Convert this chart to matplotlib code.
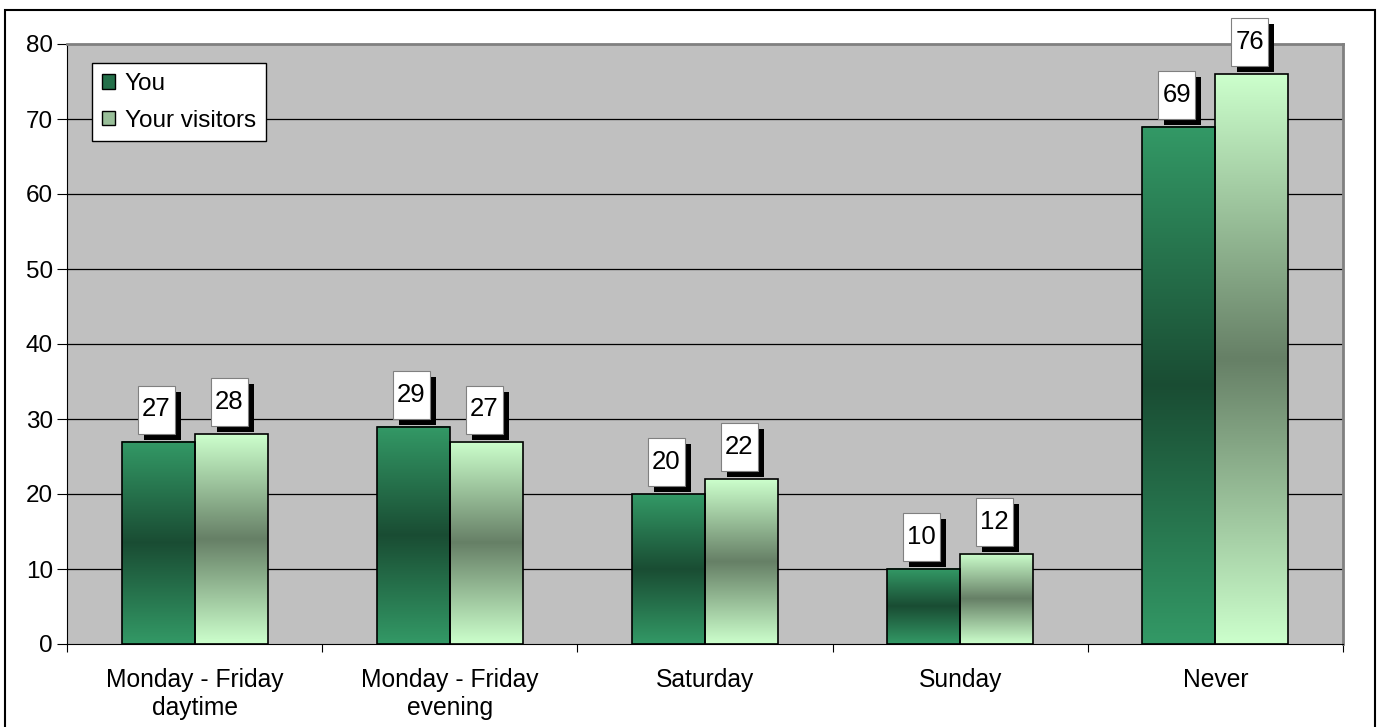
import numpy as np
import matplotlib
matplotlib.use("Agg")
import matplotlib.pyplot as plt
from matplotlib.patches import Rectangle, Patch
from matplotlib.transforms import ScaledTranslation

plt.rcParams['font.family'] = ['Liberation Sans', 'DejaVu Sans']

categories = ["Monday - Friday\ndaytime", "Monday - Friday\nevening",
              "Saturday", "Sunday", "Never"]
you = [27, 29, 20, 10, 69]
visitors = [28, 27, 22, 12, 76]
series_names = ["You", "Your visitors"]
yticks = [0, 10, 20, 30, 40, 50, 60, 70, 80]

base_colors = [np.array([51, 153, 102]) / 255, np.array([204, 255, 204]) / 255]
legend_colors = ["#24704a", "#99bf99"]


def gradient_image(color, n=256):
    """Vertical gradient: base colour at both ends, half as bright in the middle"""
    t = np.linspace(0, 1, n)
    factor = 1 - 0.5 * (1 - np.abs(2 * t - 1))
    return factor[:, None, None] * color[None, None, :]


def value_box(ax, fig, x, h, text):
    """White label box with a black drop shadow above a bar"""
    trans = fig.dpi_scale_trans + ScaledTranslation(x, h, ax.transData)
    w, bh, gap, dx = 0.37, 0.48, 0.08, -0.02
    ax.add_patch(Rectangle((dx - w / 2 + 0.06, gap - 0.06), w, bh, transform=trans,
                           facecolor='black', edgecolor='none', clip_on=False, zorder=5))
    ax.add_patch(Rectangle((dx - w / 2, gap), w, bh, transform=trans,
                           facecolor='white', edgecolor='#808080', lw=0.8,
                           clip_on=False, zorder=6))
    ax.text(dx, gap + bh / 2, text, transform=trans, ha='center', va='center',
            fontsize=18.5, zorder=7)


fig = plt.figure(figsize=(13.82, 7.27), dpi=100)
ax = fig.add_axes([67 / 1382, 1 - 644 / 727, (1343 - 67) / 1382, (644 - 44) / 727])
ax.set_facecolor('#c0c0c0')

x = np.arange(len(categories))
width = 0.286
for i, (vals, color) in enumerate(zip([you, visitors], base_colors)):
    offset = (i - 0.5) * width
    bars = ax.bar(x + offset, vals, width, facecolor='none', edgecolor='black',
                  lw=1.2, zorder=4)
    for rect, v in zip(bars, vals):
        x0 = rect.get_x()
        ax.imshow(gradient_image(color), extent=[x0, x0 + width, 0, v],
                  origin='lower', aspect='auto', zorder=3, interpolation='bilinear')
        value_box(ax, fig, x0 + width / 2, v, str(v))

ax.set_xlim(-0.5, len(categories) - 0.5)
ax.set_ylim(0, 80)
ax.set_yticks(yticks)
ax.tick_params(axis='y', labelsize=17.5, length=7, pad=3, direction='out')
ax.set_xticks(np.arange(len(categories) + 1) - 0.5)
ax.set_xticklabels([])
ax.set_xticks(x, labels=categories, minor=True)
ax.tick_params(axis='x', which='major', length=6, direction='out')
ax.tick_params(axis='x', which='minor', length=0, pad=17, labelsize=17.7)
for lab in ax.get_xticklabels(minor=True):
    lab.set_linespacing(1.25)

for y in yticks[1:-1]:
    ax.axhline(y, color='black', lw=0.9, zorder=1)

ax.spines['top'].set_color('#808080')
ax.spines['right'].set_color('#808080')
ax.spines['top'].set_linewidth(2)
ax.spines['right'].set_linewidth(2)
ax.spines['left'].set_color('black')
ax.spines['bottom'].set_color('black')

handles = [Patch(facecolor=c, edgecolor='black', label=n)
           for c, n in zip(legend_colors, series_names)]
leg = ax.legend(handles=handles, loc='upper left', bbox_to_anchor=(0.0196, 0.968),
                fontsize=17.5, frameon=True, fancybox=False, edgecolor='black',
                framealpha=1, handlelength=0.55, handleheight=0.55,
                handletextpad=0.4, borderpad=0.4, labelspacing=0.6,
                borderaxespad=0)
leg.get_frame().set_linewidth(1)
leg.set_zorder(10)

# outer chart frame
fig.patches.append(Rectangle((5 / 1382, -0.02), 1370 / 1382, 1.02 - 10 / 727,
                             transform=fig.transFigure, facecolor='none',
                             edgecolor='black', lw=1.5))

fig.savefig("out.png", dpi=100)
